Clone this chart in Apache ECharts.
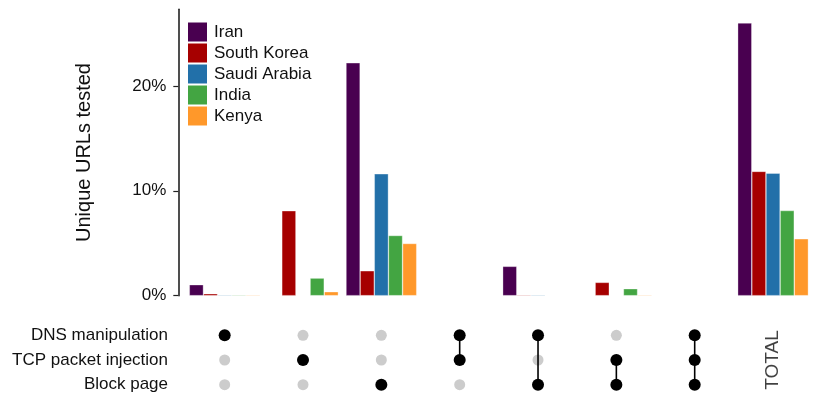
<!DOCTYPE html>
<html>
<head>
<meta charset="utf-8">
<script src="https://cdn.jsdelivr.net/npm/echarts@6/dist/echarts.min.js"></script>
<style>
  html, body { margin: 0; padding: 0; background: #fff; }
  #chart { width: 830px; height: 415px; }
</style>
</head>
<body>
<div id="chart"></div>
<script>
// combinations of blocking methods (last one is the overall total)
const combos = ['DNS', 'TCP', 'Block', 'DNS+TCP', 'DNS+Block', 'TCP+Block', 'All', 'TOTAL'];
const countries = ['Iran', 'South Korea', 'Saudi Arabia', 'India', 'Kenya'];
const colors = ['#490050', '#a60000', '#2270a9', '#43a542', '#ff982a'];

// share of unique URLs tested, in %
const iran        = [1.05, 0,    22.2,  0, 2.8,  0,    0, 26.0];
const southKorea  = [0.19, 8.1,  2.38,  0, 0.08, 1.27, 0, 11.85];
const saudiArabia = [0.08, 0,    11.62, 0, 0.08, 0,    0, 11.68];
const india       = [0.08, 1.68, 5.74,  0, 0,    0.67, 0, 8.12];
const kenya       = [0.08, 0.38, 4.98,  0, 0,    0.08, 0, 5.43];
const yTicks = [0, 10, 20];

// matrix of methods used per combination
const methods = ['DNS manipulation', 'TCP packet injection', 'Block page'];
const dnsUsed   = [1, 0, 0, 1, 1, 0, 1];
const tcpUsed   = [0, 1, 0, 1, 0, 1, 1];
const blockUsed = [0, 0, 1, 0, 1, 1, 1];

const font = 'Liberation Sans, Arial, Helvetica, sans-serif';

const initChart = function () {
  const myChart = echarts.init(document.getElementById('chart'));

  const values = [iran, southKorea, saudiArabia, india, kenya];
  const used = [dnsUsed, tcpUsed, blockUsed];

  const onDots = [], offDots = [], links = [];
  for (let c = 0; c < dnsUsed.length; c++) {
    let first = -1, last = -1;
    for (let r = 0; r < used.length; r++) {
      if (used[r][c]) {
        onDots.push([c, r]);
        if (first < 0) first = r;
        last = r;
      } else {
        offDots.push([c, r]);
      }
    }
    if (last > first) links.push([c, first, last]);
  }

  const barSeries = countries.map(function (name, i) {
    return {
      name: name,
      type: 'bar',
      xAxisIndex: 0,
      yAxisIndex: 0,
      data: values[i],
      barGap: 0,
      barCategoryGap: '9.7%',
      itemStyle: {
        color: colors[i],
        borderColor: 'rgba(255,255,255,0.55)',
        borderWidth: 0.6
      }
    };
  });

  let option = {
    animation: false,
    color: colors,
    textStyle: { fontFamily: font },
    legend: {
      data: countries,
      orient: 'vertical',
      left: 188,
      top: 22.5,
      padding: 0,
      icon: 'rect',
      itemWidth: 19,
      itemHeight: 19,
      itemGap: 2,
      itemStyle: { borderWidth: 0 },
      textStyle: { fontSize: 17, color: '#111', fontFamily: font, padding: [0, 0, 0, 2] }
    },
    grid: [
      { left: 185.5, top: 9.3, width: 626.7, height: 286.4 },
      { left: 185.5, top: 323, width: 626.7, height: 74 }
    ],
    xAxis: [
      {
        gridIndex: 0, type: 'category', data: combos,
        axisLine: { show: false }, axisTick: { show: false }, axisLabel: { show: false }
      },
      {
        gridIndex: 1, type: 'category', data: combos,
        axisLine: { show: false }, axisTick: { show: false }, axisLabel: { show: false }
      }
    ],
    yAxis: [
      {
        gridIndex: 0, type: 'value', min: 0, max: 27.3, interval: 10,
        offset: 7.2,
        splitLine: { show: false },
        axisLine: { show: true, lineStyle: { color: '#222', width: 1.6 } },
        axisTick: { show: true, length: 5, customValues: yTicks, lineStyle: { color: '#222', width: 1.2 } },
        axisLabel: {
          fontSize: 17, color: '#111', margin: 12, fontFamily: font,
          customValues: yTicks,
          formatter: '{value}%'
        }
      },
      {
        gridIndex: 1, type: 'category', data: methods, inverse: true,
        axisLine: { show: false }, axisTick: { show: false },
        axisLabel: { fontSize: 17, color: '#111', margin: 17.5, fontFamily: font }
      }
    ],
    graphic: [
      {
        type: 'text',
        x: 84, y: 152.5,
        rotation: Math.PI / 2,
        style: {
          text: 'Unique URLs tested',
          fontSize: 20, fontFamily: font, fill: '#111',
          align: 'center', verticalAlign: 'middle'
        }
      }
    ],
    series: barSeries.concat([
      {
        type: 'scatter', xAxisIndex: 1, yAxisIndex: 1,
        data: offDots, symbolSize: 11, z: 2,
        itemStyle: { color: '#cccccc', opacity: 1 }, silent: true
      },
      {
        type: 'custom', xAxisIndex: 1, yAxisIndex: 1, z: 3, silent: true,
        data: links,
        renderItem: function (params, api) {
          const p1 = api.coord([api.value(0), api.value(1)]);
          const p2 = api.coord([api.value(0), api.value(2)]);
          return {
            type: 'line',
            shape: { x1: p1[0], y1: p1[1], x2: p2[0], y2: p2[1] },
            style: { stroke: '#000', lineWidth: 1.6 }
          };
        }
      },
      {
        type: 'scatter', xAxisIndex: 1, yAxisIndex: 1,
        data: onDots, symbolSize: 12, z: 4,
        itemStyle: { color: '#000', opacity: 1 }, silent: true
      },
      {
        type: 'scatter', xAxisIndex: 1, yAxisIndex: 1,
        data: [[combos.length - 1, 1]], symbolSize: 0, z: 4, silent: true,
        label: {
          show: true, position: 'inside', formatter: 'TOTAL', rotate: 90,
          fontSize: 19, color: '#111', fontFamily: font
        }
      }
    ])
  };

  myChart.setOption(option);
};

window.addEventListener('load', function () {
  initChart();
});
</script>
</body>
</html>
